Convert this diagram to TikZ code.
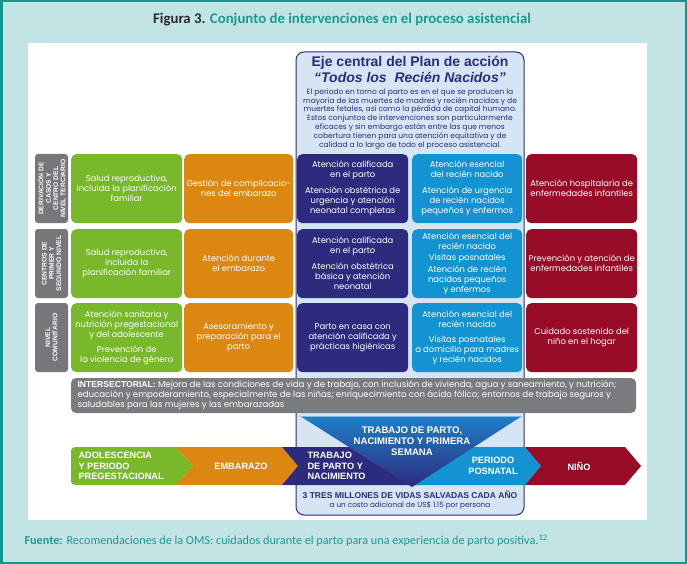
\documentclass[tikz,border=0pt]{standalone}
\usepackage{fontspec}
\setmainfont{Poppins}
\newfontfamily\carl{Carlito}
\newfontfamily\hdr{Liberation Sans}
\definecolor{bgteal}{HTML}{C3E4E4}
\definecolor{frameteal}{HTML}{12978D}
\definecolor{titleteal}{HTML}{1B9A90}
\definecolor{darktxt}{HTML}{2B2B2B}
\definecolor{labgray}{HTML}{76777A}
\definecolor{gbar}{HTML}{7A7B7E}
\definecolor{cgreen}{HTML}{78B82A}
\definecolor{corange}{HTML}{DC8711}
\definecolor{cnavy}{HTML}{2D2B7E}
\definecolor{cblue}{HTML}{1493D3}
\definecolor{cmaroon}{HTML}{980C27}
\definecolor{panelblue}{HTML}{D5E5F4}
\definecolor{triblue}{HTML}{1F7FC8}
\tikzset{
  box/.style={rounded corners=5pt, minimum height=69pt, inner sep=1pt, text=white,
    align=center, anchor=north west, font=\fontsize{8.4}{10}\selectfont},
  lab/.style={fill=labgray, rounded corners=3pt, rotate=90, minimum width=69pt, minimum height=33pt,
    inner sep=1pt, text=white, align=center, font=\hdr\bfseries\fontsize{6.7}{7.3}\selectfont},
  bartxt/.style={text=white, font=\hdr\bfseries\fontsize{9.2}{10.8}\selectfont},
}
\begin{document}
\begin{tikzpicture}[x=1pt,y=1pt]
\useasboundingbox (0,0) rectangle (687,-564);
\fill[bgteal] (0,0) rectangle (687,-564);
\draw[frameteal, line width=2.5pt] (1.25,-1.25) rectangle (685.75,-562.75);
\fill[white] (28,-43) rectangle (647,-520);
\node (title) at (342,-20) {\carl\bfseries\fontsize{14.8}{16}\selectfont\textcolor{darktxt}{Figura 3.} \textcolor{titleteal}{Conjunto de intervenciones en el proceso asistencial}};
\node[anchor=west] (foot) at (21,-541) {\carl\fontsize{12.2}{14}\selectfont\color{titleteal}\textbf{Fuente:} Recomendaciones de la OMS: cuidados durante el parto para una experiencia de parto positiva.\textsuperscript{12}};
% central panel
\draw[cnavy, line width=1pt, fill=panelblue, rounded corners=8pt] (296,-52) rectangle (524,-515);
\node[text=cnavy, font=\hdr\bfseries\fontsize{14}{16}\selectfont] (h1) at (410,-63) {Eje central del Plan de acción};
\node[text=cnavy, font=\hdr\bfseries\itshape\fontsize{14}{16}\selectfont] (h2) at (410,-77) {“Todos los\ \ Recién Nacidos”};
\node[text=cnavy, align=center, font=\fontsize{7.5}{8.8}\selectfont, anchor=north] (para) at (410,-85) {El periodo en torno al parto es en el que se producen la\\mayoría de las muertes de madres y recién nacidos y de\\muertes fetales, así como la pérdida de capital humano.\\Estos conjuntos de intervenciones son particularmente\\eficaces y sin embargo están entre las que menos\\cobertura tienen para una atención equitativa y de\\calidad a lo largo de todo el proceso asistencial.};
% row 1
\node[lab] (l1) at (51.5,-188.5) {DERIVACIÓN DE\\CASOS Y\\CENTRO DEL\\NIVEL TERCIARIO};
\node[box, fill=cgreen, minimum width=111pt] (g1) at (71,-154) {Salud reproductiva,\\incluida la planificación\\familiar};
\node[box, fill=corange, minimum width=109pt] (o1) at (184,-154) {Gestión de complicacio-\\nes del embarazo};
\node[box, fill=cnavy, minimum width=111pt] (n1) at (297,-154) {Atención calificada\\en el parto\\[6pt]Atención obstétrica de\\urgencia y atención\\neonatal completas};
\node[box, fill=cblue, minimum width=110pt] (b1) at (412,-154) {Atención esencial\\del recién nacido\\[6pt]Atención de urgencia\\de recién nacidos\\pequeños y enfermos};
\node[box, fill=cmaroon, minimum width=111pt] (m1) at (526,-154) {Atención hospitalaria de\\enfermedades infantiles};
% row 2
\node[lab] (l2) at (51.5,-263.5) {CENTROS DE\\PRIMER Y\\SEGUNDO NIVEL};
\node[box, fill=cgreen, minimum width=111pt] (g2) at (71,-229) {Salud reproductiva,\\incluida la\\planificación familiar};
\node[box, fill=corange, minimum width=109pt] (o2) at (184,-229) {Atención durante\\el embarazo};
\node[box, fill=cnavy, minimum width=111pt] (n2) at (297,-229) {Atención calificada\\en el parto\\[6pt]Atención obstétrica\\básica y atención\\neonatal};
\node[box, fill=cblue, minimum width=110pt] (b2) at (412,-229) {Atención esencial del\\recién nacido\\[1.5pt]Visitas posnatales\\[1.5pt]Atención de recién\\nacidos pequeños\\y enfermos};
\node[box, fill=cmaroon, minimum width=111pt] (m2) at (526,-229) {Prevención y atención de\\enfermedades infantiles};
% row 3
\node[lab] (l3) at (51.5,-337.5) {NIVEL\\COMUNITARIO};
\node[box, fill=cgreen, minimum width=111pt] (g3) at (71,-303) {Atención sanitaria y\\nutrición pregestacional\\y del adolescente\\[5pt]Prevención de\\la violencia de género};
\node[box, fill=corange, minimum width=109pt] (o3) at (184,-303) {Asesoramiento y\\preparación para el\\parto};
\node[box, fill=cnavy, minimum width=111pt] (n3) at (297,-303) {Parto en casa con\\atención calificada y\\prácticas higiénicas};
\node[box, fill=cblue, minimum width=110pt] (b3) at (412,-303) {Atención esencial del\\recién nacido\\[5pt]Visitas posnatales\\a domicilio para madres\\y recién nacidos};
\node[box, fill=cmaroon, minimum width=111pt] (m3) at (526,-303) {Cuidado sostenido del\\niño en el hogar};
% intersectoral bar
\fill[gbar, rounded corners=5pt] (71,-378) rectangle (636,-413);
\node[anchor=west, text=white, align=left, font=\fontsize{8.6}{10}\selectfont] (inter) at (74,-395.5) {\hdr\bfseries INTERSECTORIAL:\normalfont\ Mejora de las condiciones de vida y de trabajo, con inclusión de vivienda, agua y saneamiento, y nutrición;\\educación y empoderamiento, especialmente de las niñas; enriquecimiento con ácido fólico; entornos de trabajo seguros y\\saludables para las mujeres y las embarazadas};
% bottom arrow bar
\fill[cgreen, rounded corners=4pt] (71,-466) -- (71,-447) -- (180,-447) [sharp corners] -- (176,-447) -- (193,-466) -- (176,-485) [rounded corners=4pt] -- (71,-485) -- cycle;
\fill[corange] (176,-447) -- (282,-447) -- (298,-466) -- (282,-485) -- (176,-485) -- (193,-466) -- cycle;
\fill[cnavy] (282,-447) -- (420,-447) -- (420,-485) -- (282,-485) -- (298,-466) -- cycle;
\fill[cblue] (474,-447) -- (525,-447) -- (541,-466) -- (525,-485) -- (412,-485) -- cycle;
\fill[cmaroon] (525,-447) -- (625,-447) -- (641,-466) -- (625,-485) -- (525,-485) -- (541,-466) -- cycle;
\shade[top color=triblue, bottom color=cnavy] (300,-416) -- (522,-416) -- (412,-487) -- cycle;
\draw[white, opacity=0.45, line width=1.2pt] (301,-416.6) -- (521,-416.6);
\node[bartxt, align=center, font=\hdr\bfseries\fontsize{9.6}{10.8}\selectfont] (tri) at (412,-441) {TRABAJO DE PARTO,\\NACIMIENTO Y PRIMERA\\SEMANA};
\node[bartxt, align=left, anchor=west] (s1) at (75,-466) {ADOLESCENCIA\\Y PERIODO\\PREGESTACIONAL};
\node[bartxt] (s2) at (241,-466) {EMBARAZO};
\node[bartxt, align=left, anchor=west] (s3) at (304,-466) {TRABAJO\\DE PARTO Y\\NACIMIENTO};
\node[bartxt, align=center] (s4) at (493,-466) {PERIODO\\POSNATAL};
\node[bartxt] (s5) at (579,-466) {NIÑO};
\node[text=cnavy, font=\hdr\bfseries\fontsize{8.5}{10}\selectfont] (lives) at (410,-495) {3 TRES MILLONES DE VIDAS SALVADAS CADA AÑO};
\node[text=cnavy, font=\fontsize{7.3}{9}\selectfont] (cost) at (410,-505.5) {a un costo adicional de US\$ 1.15 por persona};
\end{tikzpicture}
\end{document}
